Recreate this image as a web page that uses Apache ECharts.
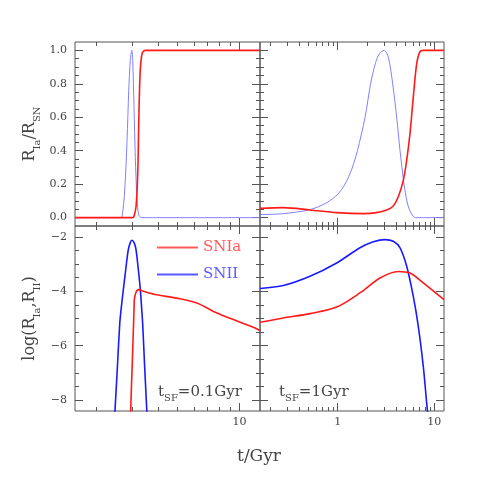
<!DOCTYPE html>
<html>
<head>
<meta charset="utf-8">
<script src="https://cdn.jsdelivr.net/npm/echarts@6/dist/echarts.min.js"></script>
<style>
html,body{margin:0;padding:0;background:#fff}
#chart{width:485px;height:485px}
</style>
</head>
<body>
<div id="chart"></div>
<script>
// t in Gyr. top: R_Ia/R_SN, bottom: log rates
// left column t_SF = 0.1 Gyr
var tlIaT = [1.58, 3.00, 3.053, 3.134, 3.194, 3.231, 3.280, 3.353, 3.479, 12.6];
var tlIaV = [0, 0, 0.003, 0.065, 0.26, 0.56, 0.86, 0.98, 1.0, 1.0];
var tlIIT = [1.58, 2.62, 2.679, 2.761, 2.833, 2.888, 2.939, 2.99, 3.020, 3.064, 3.109, 3.170, 3.231, 3.327, 12.6];
var tlIIV = [0, 0, 0.006, 0.165, 0.46, 0.76, 0.94, 1.0, 0.94, 0.66, 0.36, 0.105, 0.016, 0, 0];

var blIaT = [2.945, 2.952, 3.003, 3.053, 3.068, 3.075, 3.124, 3.216, 3.401, 3.88, 4.95, 6.20, 7.76, 9.35, 11.93, 12.6];
var blIaV = [-9, -8.36, -6.7, -5.04, -4.5, -4.31, -4.06, -3.94, -4.0, -4.12, -4.25, -4.43, -4.80, -5.04, -5.35, -5.45];
var blIIT = [2.45, 2.476, 2.546, 2.61, 2.649, 2.718, 2.792, 2.874, 2.939, 2.99, 3.071, 3.134, 3.216, 3.289, 3.342, 3.377, 3.449, 3.535, 3.56];
var blIIV = [-8.9, -8.36, -6.7, -5.2, -4.68, -3.94, -3.2, -2.47, -2.21, -2.125, -2.22, -2.47, -3.2, -3.94, -4.68, -5.2, -6.7, -8.36, -8.9];

// right column t_SF = 1 Gyr
var trIaT = [0.157, 0.2735, 0.517, 0.976, 1.84, 2.53, 3.21, 3.76, 4.24, 4.78, 5.18, 5.60, 6.06, 6.57, 7.11, 7.69, 12.6];
var trIaV = [0.056, 0.060, 0.046, 0.030, 0.024, 0.030, 0.046, 0.070, 0.125, 0.224, 0.343, 0.502, 0.72, 0.919, 0.992, 1.0, 1.0];
var trIIT = [0.157, 0.2735, 0.517, 0.769, 1.0, 1.19, 1.40, 1.60, 1.92, 2.19, 2.45, 2.70, 3.02, 3.34, 3.71, 4.08, 4.42, 4.86, 5.20, 5.51, 6.0, 6.4, 12.6];
var trIIV = [0.018, 0.024, 0.048, 0.089, 0.14, 0.2, 0.29, 0.4, 0.6, 0.8, 0.92, 0.98, 1.0, 0.96, 0.8, 0.6, 0.4, 0.2, 0.1, 0.05, 0.01, 0, 0];

var brIaT = [0.157, 0.2735, 0.517, 0.976, 1.70, 2.74, 4.24, 5.60, 7.69, 12.6];
var brIaV = [-5.14, -4.98, -4.82, -4.58, -4.06, -3.51, -3.27, -3.33, -3.69, -4.31];
var brIIT = [0.157, 0.2735, 0.517, 0.976, 1.70, 2.34, 3.09, 3.76, 4.42, 5.18, 6.06, 6.83, 7.69, 8.34, 8.6];
var brIIV = [-3.90, -3.79, -3.45, -2.96, -2.40, -2.18, -2.10, -2.16, -2.40, -3.08, -4.19, -5.29, -6.76, -8.11, -8.6];

// tick values
var xMajorTicks = [0.1, 1, 10];
var xMinorTicks = [0.2, 0.3, 0.4, 0.5, 0.6, 0.7, 0.8, 0.9, 2, 3, 4, 5, 6, 7, 8, 9];
var yTopMajor = [0, 0.2, 0.4, 0.6, 0.8, 1];
var yTopMinor = [0.05, 0.1, 0.15, 0.25, 0.3, 0.35, 0.45, 0.5, 0.55, 0.65, 0.7, 0.75, 0.85, 0.9, 0.95];
var yBotMajor = [-8, -6, -4, -2];
var yBotMinor = [-7.5, -7, -6.5, -5.5, -5, -4.5, -3.5, -3, -2.5];

var FONT = 'DejaVu Serif';
var AXIS = '#555';
var TXT = '#444';
var RED = '#ff1a1a';

var sub = {fontFamily: FONT, fontSize: 10, lineHeight: 10, verticalAlign: 'bottom', color: TXT, fill: TXT};

var panels = [
    {grid: {left: 75, top: 42, width: 185, height: 184}, x: [1.58, 12.6], y: [-0.05, 1.05],
     yMajor: yTopMajor, yMinor: yTopMinor, labelX: false, labelY: true, name: 'R{s|Ia}/R{s|SN}',
     ia: [tlIaT, tlIaV], ii: [tlIIT, tlIIV], iiColor: '#8080ff', iiWidth: 1},
    {grid: {left: 260, top: 42, width: 184, height: 184}, x: [0.157, 12.6], y: [-0.05, 1.05],
     yMajor: yTopMajor, yMinor: yTopMinor, labelX: false, labelY: false,
     ia: [trIaT, trIaV], ii: [trIIT, trIIV], iiColor: '#8080ff', iiWidth: 1},
    {grid: {left: 75, top: 226, width: 185, height: 185}, x: [1.58, 12.6], y: [-8.4, -1.6],
     yMajor: yBotMajor, yMinor: yBotMinor, labelX: true, labelY: true, name: 'log(R{s|Ia},R{s|II})',
     ia: [blIaT, blIaV], ii: [blIIT, blIIV], iiColor: '#1a1aff', iiWidth: 1.6},
    {grid: {left: 260, top: 226, width: 184, height: 185}, x: [0.157, 12.6], y: [-8.4, -1.6],
     yMajor: yBotMajor, yMinor: yBotMinor, labelX: true, labelY: false,
     ia: [brIaT, brIaV], ii: [brIIT, brIIV], iiColor: '#1a1aff', iiWidth: 1.6}
];

function lg(v) { return Math.log10(v); }
function inRange(vals, r) { return vals.filter(function (v) { return v >= r[0] && v <= r[1]; }); }
function pts(t, v) { return t.map(function (x, i) { return [x, v[i]]; }); }

function tickAxis(g, pos, range, ticks, len, fmt) {
    return {
        gridIndex: g, type: 'value', position: pos, min: range[0], max: range[1],
        axisLine: {show: false, onZero: false}, splitLine: {show: false},
        axisTick: {show: true, inside: true, length: len, customValues: ticks, lineStyle: {color: AXIS, width: 1}},
        axisLabel: fmt ? {show: true, customValues: ticks, formatter: fmt, margin: pos === 'left' || pos === 'right' ? 8 : 6,
                          color: TXT, fontFamily: FONT, fontSize: 11} : {show: false}
    };
}

function xFmt(v) { return String(Math.round(Math.pow(10, v) * 10) / 10); }
function yFmt(v) {
    if (v >= 0) return v.toFixed(1);
    return '\u2212' + Math.abs(v);
}

var grids = [], xAxes = [], yAxes = [], series = [];
panels.forEach(function (p, g) {
    grids.push(Object.assign({show: true, borderColor: AXIS, borderWidth: 1, backgroundColor: 'transparent'}, p.grid));

    var lx = [lg(p.x[0]), lg(p.x[1])];
    var xi = xAxes.length;
    xAxes.push({gridIndex: g, type: 'log', logBase: 10, min: p.x[0], max: p.x[1], show: false});
    ['bottom', 'top'].forEach(function (pos) {
        xAxes.push(tickAxis(g, pos, lx, inRange(xMinorTicks.map(lg), lx), 4, null));
        xAxes.push(tickAxis(g, pos, lx, inRange(xMajorTicks.map(lg), lx), 8,
            pos === 'bottom' && p.labelX ? xFmt : null));
    });

    var yi = yAxes.length;
    var ya = tickAxis(g, 'left', p.y, p.yMajor, 8, p.labelY ? yFmt : null);
    if (p.name) {
        ya.name = p.name;
        ya.nameLocation = 'middle';
        ya.nameGap = 33;
        ya.nameTextStyle = {fontFamily: FONT, fontSize: 16, lineHeight: 24, color: TXT, rich: {s: sub}};
    }
    yAxes.push(ya);
    yAxes.push(tickAxis(g, 'left', p.y, p.yMinor, 4, null));
    yAxes.push(tickAxis(g, 'right', p.y, p.yMajor, 8, null));
    yAxes.push(tickAxis(g, 'right', p.y, p.yMinor, 4, null));

    series.push({
        type: 'line', name: 'SNII', xAxisIndex: xi, yAxisIndex: yi,
        data: pts(p.ii[0], p.ii[1]), symbol: 'none', smooth: 0.3,
        lineStyle: {color: p.iiColor, width: p.iiWidth}, itemStyle: {color: p.iiColor}
    });
    series.push({
        type: 'line', name: 'SNIa', xAxisIndex: xi, yAxisIndex: yi,
        data: pts(p.ia[0], p.ia[1]), symbol: 'none', smooth: 0.3,
        lineStyle: {color: RED, width: 1.6}, itemStyle: {color: RED}
    });
});

var chart = echarts.init(document.getElementById('chart'));
chart.setOption({
    animation: false,
    backgroundColor: '#fff',
    grid: grids,
    xAxis: xAxes,
    yAxis: yAxes,
    series: series,
    legend: {
        left: 157, top: 240, orient: 'vertical', padding: 0, itemGap: 12,
        itemWidth: 41, itemHeight: 2, icon: 'rect', selectedMode: false,
        textStyle: {fontFamily: FONT, fontSize: 15},
        data: [
            {name: 'SNIa', itemStyle: {color: '#ff5a5a'}, lineStyle: {color: '#ff5a5a'}, textStyle: {color: '#ff5a5a'}},
            {name: 'SNII', itemStyle: {color: '#5a5aff'}, lineStyle: {color: '#5a5aff'}, textStyle: {color: '#5a5aff'}}
        ]
    },
    graphic: [
        {type: 'text', x: 259, y: 457, style: {text: 't/Gyr', fontFamily: FONT, fontSize: 17, fill: TXT, align: 'center', verticalAlign: 'middle'}},
        {type: 'text', x: 158, y: 392, style: {text: 't{s|SF}=0.1Gyr', rich: {s: sub}, fontFamily: FONT, fontSize: 15, lineHeight: 22, fill: TXT, align: 'left', verticalAlign: 'middle'}},
        {type: 'text', x: 279, y: 392, style: {text: 't{s|SF}=1Gyr', rich: {s: sub}, fontFamily: FONT, fontSize: 15, lineHeight: 22, fill: TXT, align: 'left', verticalAlign: 'middle'}}
    ]
});
window.addEventListener('resize', function () { chart.resize(); });
</script>
</body>
</html>
